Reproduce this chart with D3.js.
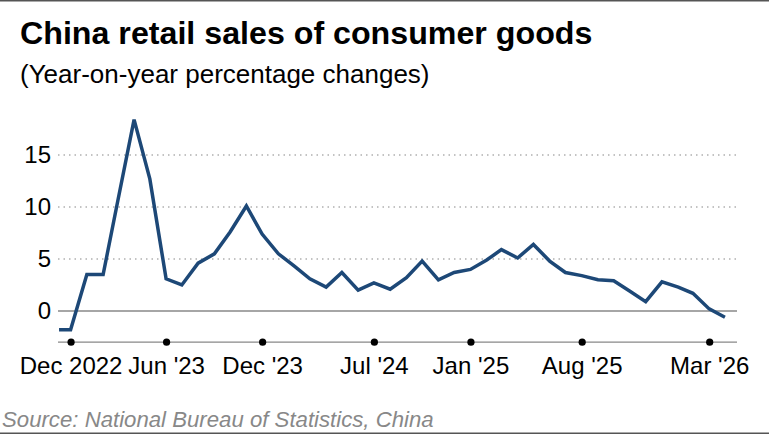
<!DOCTYPE html>
<html>
<head>
<meta charset="utf-8">
<script src="https://cdn.jsdelivr.net/npm/d3@7"></script>
<style>
  html, body { margin: 0; padding: 0; background: #fff; }
  svg { display: block; font-family: "Liberation Sans", Arial, Helvetica, sans-serif; }
</style>
</head>
<body>
<svg id="chart" width="769" height="434"></svg>
<script>
// ---- Data ----
const dates = [
  "2022-11-09","2022-12-01",
  "2023-01-01","2023-02-01","2023-03-01","2023-04-01","2023-05-01","2023-06-01",
  "2023-07-01","2023-08-01","2023-09-01","2023-10-01","2023-11-01","2023-12-01",
  "2024-01-01","2024-02-01","2024-03-01","2024-04-01","2024-05-01","2024-06-01",
  "2024-07-01","2024-08-01","2024-09-01","2024-10-01","2024-11-01","2024-12-01",
  "2025-01-01","2025-02-01","2025-03-01","2025-04-01","2025-05-01","2025-06-01",
  "2025-07-01","2025-08-01","2025-09-01","2025-10-01","2025-11-01","2025-12-01",
  "2026-01-01","2026-02-01","2026-03-01","2026-04-01","2026-05-01"
];
const values = [
  -1.8, -1.8,
  3.5, 3.5, 10.6, 18.4, 12.7, 3.1,
  2.5, 4.6, 5.5, 7.6, 10.1, 7.4,
  5.5, 4.3, 3.1, 2.3, 3.7, 2.0,
  2.7, 2.1, 3.2, 4.8, 3.0, 3.7,
  4.0, 4.9, 5.9, 5.1, 6.4, 4.8,
  3.7, 3.4, 3.0, 2.9, 1.9, 0.9,
  2.8, 2.3, 1.7, 0.2, -0.6
];
const tickDates = ["2022-12-01","2023-06-01","2023-12-01","2024-07-01","2025-01-01","2025-08-01","2026-04-01"];
const tickLabels = ["Dec 2022","Jun '23","Dec '23","Jul '24","Jan '25","Aug '25","Mar '26"];
const yTicks = [0, 5, 10, 15];
const xDomain = ["2022-11-07", "2026-05-24"];
const yDomain = [-3, 19];

const title = "China retail sales of consumer goods";
const subtitle = "(Year-on-year percentage changes)";
const source = "Source: National Bureau of Statistics, China";

// ---- Chart ----
(function () {
const parse = d3.timeParse("%Y-%m-%d");
const data = dates.map((d, i) => ({ date: parse(d), value: values[i] }));

const svg = d3.select("#chart");
const W = 769, H = 434;
const mLeft = 58, mRight = 737, mTop = 113.4, mBottom = 342.2;

const x = d3.scaleTime().domain(xDomain.map(parse)).range([mLeft, mRight]);
const y = d3.scaleLinear().domain(yDomain).range([mBottom, mTop]);

// Frame lines
svg.append("line").attr("x1", 0).attr("x2", W).attr("y1", 0.75).attr("y2", 0.75)
  .attr("stroke", "#555").attr("stroke-width", 1.5);
svg.append("line").attr("x1", 0).attr("x2", W).attr("y1", H - 0.75).attr("y2", H - 0.75)
  .attr("stroke", "#555").attr("stroke-width", 1.5);

// Titles
svg.append("text").attr("x", 20).attr("y", 44)
  .attr("font-size", 32.2).attr("font-weight", "bold").attr("fill", "#000")
  .text(title);
svg.append("text").attr("x", 20).attr("y", 83)
  .attr("font-size", 26).attr("fill", "#000")
  .text(subtitle);

// Gridlines
svg.append("g").selectAll("line")
  .data(yTicks.filter(t => t !== 0))
  .join("line")
  .attr("x1", mLeft).attr("x2", mRight)
  .attr("y1", d => y(d)).attr("y2", d => y(d))
  .attr("stroke", "#b0b0b0").attr("stroke-width", 1.5)
  .attr("stroke-dasharray", "1.5,4");

// Zero line
svg.append("line")
  .attr("x1", mLeft).attr("x2", mRight)
  .attr("y1", y(0)).attr("y2", y(0))
  .attr("stroke", "#888").attr("stroke-width", 1.3);

// Y axis labels
const yAxis = d3.axisLeft(y).tickValues(yTicks).tickSize(0).tickPadding(0);
const gy = svg.append("g").attr("transform", "translate(51,0)").call(yAxis);
gy.select(".domain").remove();
gy.selectAll("text")
  .attr("font-size", 24).attr("fill", "#000")
  .attr("font-family", "'Liberation Sans', Arial, sans-serif");

// X axis
const xAxis = d3.axisBottom(x)
  .tickValues(tickDates.map(parse))
  .tickFormat((d, i) => tickLabels[i])
  .tickSize(0).tickPadding(0);
const gx = svg.append("g").attr("transform", `translate(0,${mBottom})`).call(xAxis);
gx.select(".domain").remove();
gx.insert("line", ":first-child").attr("x1", mLeft).attr("x2", mRight).attr("y1", 0).attr("y2", 0)
  .attr("stroke", "#888").attr("stroke-width", 1.3);
gx.selectAll(".tick").append("circle").attr("r", 3.6).attr("fill", "#000");
gx.selectAll("text")
  .attr("font-size", 24).attr("fill", "#000")
  .attr("dy", null).attr("y", 32)
  .attr("font-family", "'Liberation Sans', Arial, sans-serif");

// Line
const line = d3.line().x(d => x(d.date)).y(d => y(d.value));
svg.append("path").datum(data)
  .attr("d", line)
  .attr("fill", "none")
  .attr("stroke", "#1d4877")
  .attr("stroke-width", 3.5)
  .attr("stroke-linejoin", "miter");

// Source
svg.append("text").attr("x", 2).attr("y", 427)
  .attr("font-size", 22.2).attr("font-style", "italic").attr("fill", "#888")
  .text(source);
})();
</script>
</body>
</html>
